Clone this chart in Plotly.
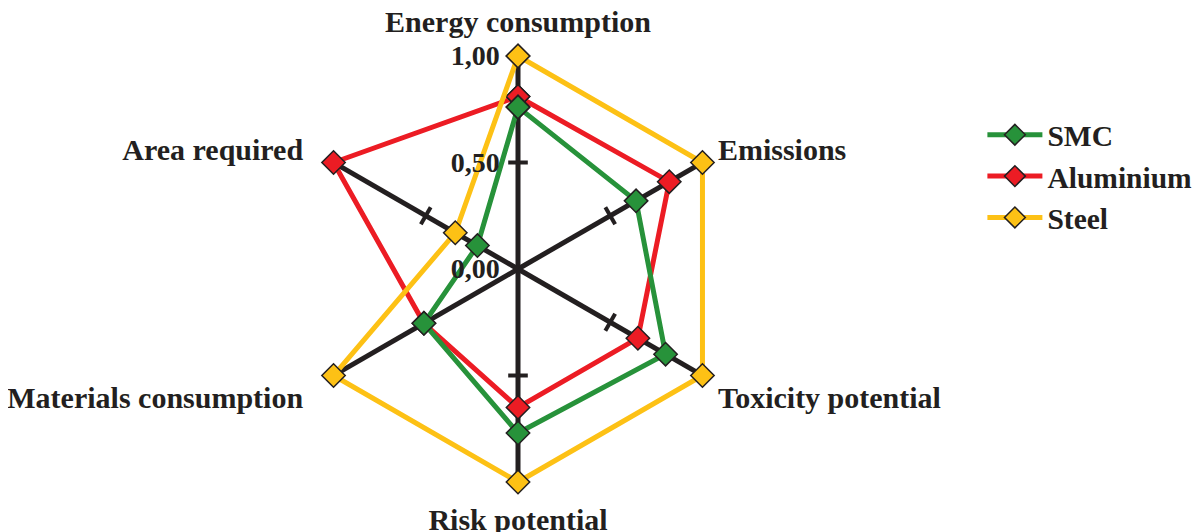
import plotly.graph_objects as go

categories = ["Energy consumption", "Emissions", "Toxicity potential",
              "Risk potential", "Materials consumption", "Area required"]
smc = [0.76, 0.64, 0.80, 0.77, 0.51, 0.22]
aluminium = [0.81, 0.82, 0.65, 0.65, 0.51, 1.00]
steel = [1.00, 1.00, 1.00, 1.00, 1.00, 0.34]
radial_ticks = [0.0, 0.5, 1.0]
radial_tick_labels = ["0,00", "0,50", "1,00"]

FONT = "Liberation Serif"
DARK = "#231f20"
colors = {"SMC": "#27923a", "Aluminium": "#ec1c24", "Steel": "#fdc115"}

RMAX = 1.025
R_PX = 213 * RMAX
CX, CY = 510, 532 - 261

# left-side labels get a little extra spacing from the spoke ends
NB = "\u00a0"
angular_labels = [c + (NB * 2 if i >= 4 else "") for i, c in enumerate(categories)]

fig = go.Figure()

# small tick dashes at 0.5 on each spoke
fig.add_trace(go.Scatterpolar(
    r=[0.5] * len(categories), theta=categories, mode="markers",
    marker=dict(symbol="line-ew", size=14, angle=[i * 60 for i in range(len(categories))],
                line=dict(color=DARK, width=4)),
    showlegend=False, hoverinfo="skip", cliponaxis=False))

series = [("Aluminium", aluminium, 2), ("SMC", smc, 1), ("Steel", steel, 3)]
for name, vals, rank in series:
    fig.add_trace(go.Scatterpolar(
        r=vals + vals[:1], theta=categories + categories[:1], name=name,
        mode="lines+markers", legendrank=rank, cliponaxis=False,
        line=dict(color=colors[name], width=5),
        marker=dict(symbol="diamond", size=18, color=colors[name],
                    line=dict(color=DARK, width=1.5))))

fig.update_layout(
    width=1200, height=532,
    margin=dict(l=0, r=0, t=0, b=0),
    paper_bgcolor="white",
    font=dict(family=FONT, color=DARK, size=30, weight="bold"),
    polar=dict(
        domain=dict(x=[(CX - R_PX) / 1200, (CX + R_PX) / 1200],
                    y=[(CY - R_PX) / 532, (CY + R_PX) / 532]),
        bgcolor="white",
        radialaxis=dict(range=[0, RMAX], tickvals=radial_ticks, ticktext=radial_tick_labels,
                        angle=90, side="counterclockwise", showline=False, showgrid=False,
                        ticks="outside", ticklen=8, tickcolor="rgba(0,0,0,0)", tickangle=90,
                        tickfont=dict(family=FONT, size=28, color=DARK, weight="bold")),
        angularaxis=dict(direction="clockwise", rotation=90, showline=False,
                         tickmode="array", tickvals=categories, ticktext=angular_labels,
                         showgrid=True, gridcolor=DARK, gridwidth=5,
                         ticks="outside", ticklen=6, tickcolor="rgba(0,0,0,0)",
                         tickfont=dict(family=FONT, size=30, color=DARK, weight="bold")),
        gridshape="linear",
    ),
    legend=dict(x=0.812, y=0.81, xanchor="left", yanchor="top",
                font=dict(family=FONT, size=29.5, color=DARK, weight="bold"),
                itemwidth=55, tracegroupgap=0),
)

fig.write_html("out.html")
